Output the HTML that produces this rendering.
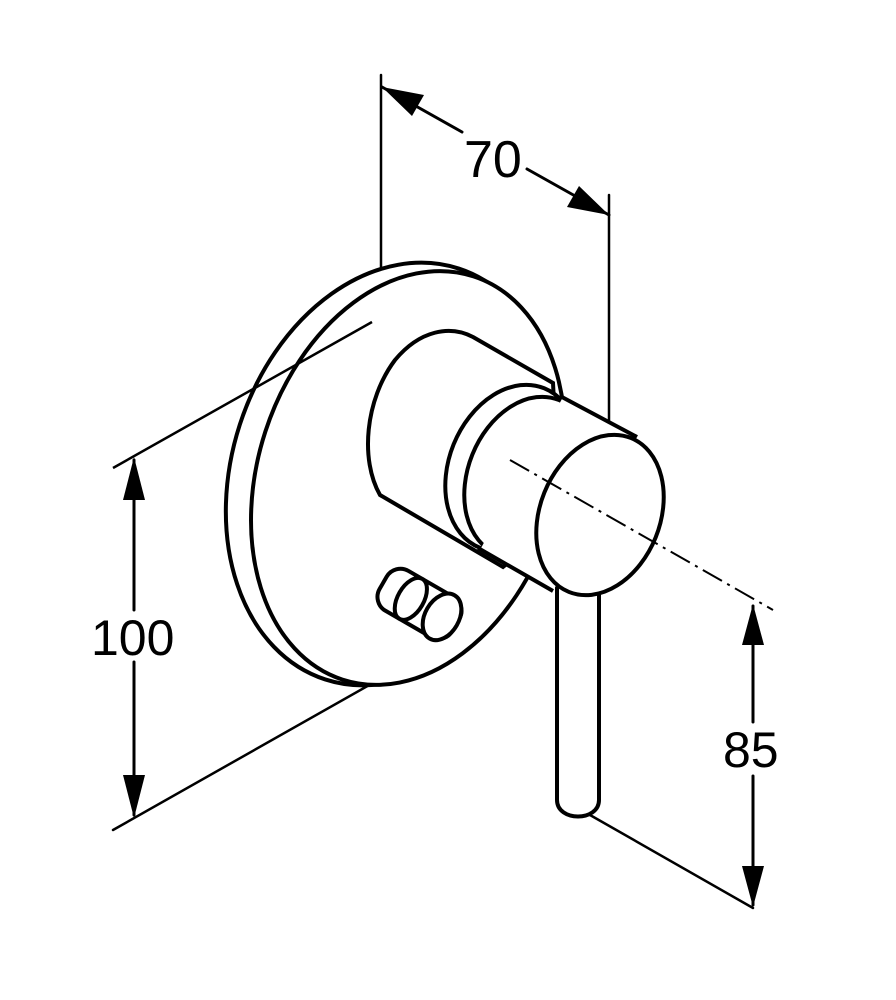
<!DOCTYPE html>
<html><head><meta charset="utf-8"><style>
html,body{margin:0;padding:0;background:#fff;}
svg{display:block;}
text{font-family:"Liberation Sans",sans-serif;fill:#000;}
</style></head><body>
<svg width="896" height="1000" viewBox="0 0 896 1000" xmlns="http://www.w3.org/2000/svg">
<g stroke="#000" fill="none" stroke-linecap="round">
  <line x1="381" y1="75" x2="381" y2="285" stroke-width="2.5"/>
  <line x1="609" y1="195" x2="609" y2="512" stroke-width="2.5"/>
  <line x1="113" y1="830" x2="440" y2="645" stroke-width="2.5"/>
  <line x1="590" y1="815" x2="753" y2="908" stroke-width="2.5"/>
  <line x1="382" y1="87" x2="462" y2="132" stroke-width="3"/>
  <line x1="527" y1="169" x2="609" y2="215" stroke-width="3"/>
  <line x1="134" y1="460" x2="134" y2="610" stroke-width="3"/>
  <line x1="134" y1="662" x2="134" y2="815" stroke-width="3"/>
  <line x1="753" y1="606" x2="753" y2="722" stroke-width="3"/>
  <line x1="753" y1="776" x2="753" y2="905" stroke-width="3"/>
</g>
<g fill="#000">
  <polygon points="382,87 424,95 412,116"/>
  <polygon points="609,215 567,207 579,186"/>
  <polygon points="134,457 123,500 145,500"/>
  <polygon points="134,818 123,775 145,775"/>
  <polygon points="753,604 742,645 764,645"/>
  <polygon points="753,907 742,866 764,866"/>
</g>
<text x="464" y="177" font-size="52">70</text>
<text x="91" y="655" font-size="50">100</text>
<text x="723" y="767" font-size="50">85</text>

<g stroke="#000" stroke-width="4" fill="#fff">
  <ellipse cx="392" cy="474" rx="160" ry="216" transform="rotate(18 392 474)"/>
  <ellipse cx="408" cy="478" rx="150" ry="212" transform="rotate(18 408 478)"/>
</g>
<line x1="113" y1="468" x2="372" y2="322" stroke="#000" stroke-width="2.5"/>
<g stroke="#000" stroke-width="4" fill="#fff">
  <!-- knob -->
  <g transform="rotate(30 420 603)">
    <rect x="378" y="581" width="84" height="46" rx="16"/>
    <ellipse cx="410" cy="604" rx="13" ry="23"/>
    <ellipse cx="446" cy="604" rx="17" ry="25"/>
  </g>
  <!-- back body -->
  <path d="M473,337 L553,383 L560,520 L503,567 L380,495 C360,460 365,400 395,360 C420,330 450,325 473,337 Z"/>
  <!-- lever -->
  <path d="M557,585 L557,800 C557,822 599,822 599,800 L599,585 Z"/>
  <!-- ring -->
  <ellipse cx="512" cy="468" rx="63" ry="86" transform="rotate(22 512 468)"/>
  <!-- front cylinder -->
  <ellipse cx="528" cy="477" rx="60" ry="83" transform="rotate(22 528 477)"/>
  <polygon points="563,397 637,437 553,591 480,550" stroke="none"/>
  <line x1="560" y1="396" x2="637" y2="437"/>
  <line x1="478" y1="548" x2="553" y2="591"/>
  <ellipse cx="600" cy="515" rx="60" ry="83" transform="rotate(22 600 515)"/>
</g>
<line x1="510" y1="460" x2="773" y2="610" stroke="#000" stroke-width="2" stroke-dasharray="22,6,3,6"/>
</svg>
</body></html>
